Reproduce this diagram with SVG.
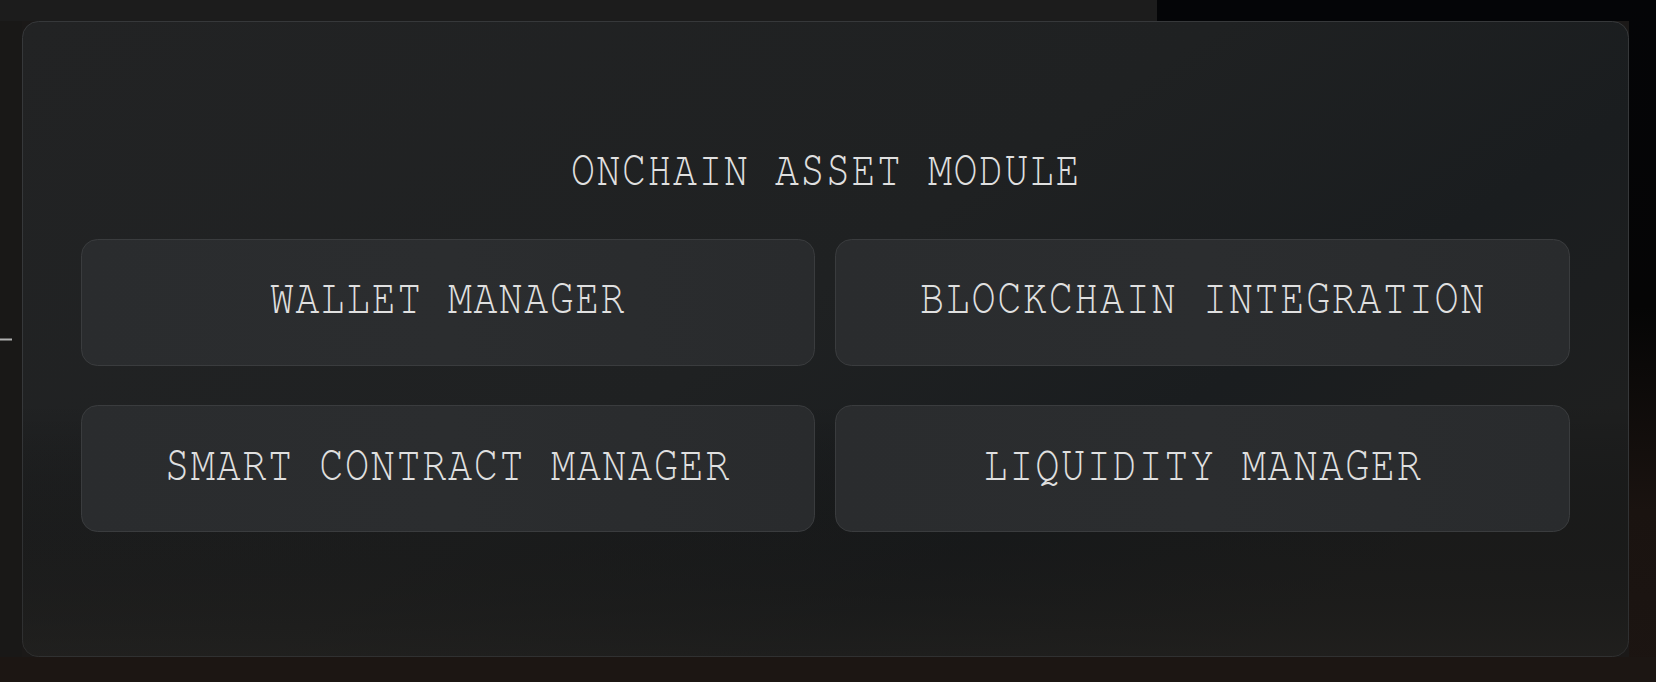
<svg xmlns="http://www.w3.org/2000/svg" width="1656" height="682" viewBox="0 0 1656 682">
  <defs>
    <linearGradient id="bgRight" x1="0" y1="0" x2="0" y2="1">
      <stop offset="0" stop-color="#040507"/>
      <stop offset="0.45" stop-color="#050505"/>
      <stop offset="0.75" stop-color="#1a1310"/>
      <stop offset="1" stop-color="#1c1512"/>
    </linearGradient>
    <linearGradient id="panelFill" x1="0" y1="0" x2="1" y2="0.6">
      <stop offset="0" stop-color="#222324"/>
      <stop offset="0.55" stop-color="#1f2122"/>
      <stop offset="0.8" stop-color="#1a1d1f"/>
      <stop offset="1" stop-color="#1e1f1f"/>
    </linearGradient>
    <linearGradient id="panelShade" x1="0" y1="0" x2="0" y2="1">
      <stop offset="0" stop-color="#000" stop-opacity="0"/>
      <stop offset="0.6" stop-color="#000" stop-opacity="0"/>
      <stop offset="1" stop-color="#211f1c" stop-opacity="0.6"/>
    </linearGradient>
    <linearGradient id="boxFill" x1="0" y1="0" x2="1" y2="0">
      <stop offset="0" stop-color="#2a2c2e"/>
      <stop offset="0.5" stop-color="#2b2d2f"/>
      <stop offset="1" stop-color="#292b2d"/>
    </linearGradient>
  </defs>
  <style>
    .panel { fill: url(#panelFill); stroke: #36383a; stroke-width: 1; }
    .box { fill: url(#boxFill); stroke: #3a3c3e; stroke-width: 1; }
    .lbl { font-family: "Nimbus Mono PS", "FreeMono", "Courier New", "Liberation Serif", serif; font-size: 50px; font-weight: 300; fill: #e0e0e0; text-anchor: middle; letter-spacing: 2px; }
  </style>

  <!-- background -->
  <rect x="0" y="0" width="1656" height="682" fill="#1b1918"/>
  <rect x="0" y="0" width="1160" height="21" fill="#1c1c1c"/>
  <rect x="1157" y="0" width="499" height="21" fill="#040507"/>
  <rect x="1629" y="0" width="27" height="682" fill="url(#bgRight)"/>
  <rect x="0" y="657" width="1656" height="25" fill="#1c1613"/>
  <rect x="0" y="21" width="22" height="636" fill="#191817"/>
  <line x1="0" y1="339.5" x2="12" y2="339.5" stroke="#b0b0b0" stroke-width="2"/>

  <g id="panel">
    <rect class="panel" x="22.5" y="21.5" width="1606" height="635" rx="16"/>
    <rect x="22.5" y="21.5" width="1606" height="635" rx="16" fill="url(#panelShade)"/>
    <text class="lbl" x="826" y="185" textLength="510" lengthAdjust="spacingAndGlyphs">ONCHAIN ASSET MODULE</text>
  </g>

  <g id="wallet-manager">
    <rect class="box" x="81.5" y="239.5" width="733" height="126" rx="16"/>
    <text class="lbl" x="448" y="313" textLength="356" lengthAdjust="spacingAndGlyphs">WALLET MANAGER</text>
  </g>

  <g id="blockchain-integration">
    <rect class="box" x="835.5" y="239.5" width="734" height="126" rx="16"/>
    <text class="lbl" x="1203" y="313" textLength="566" lengthAdjust="spacingAndGlyphs">BLOCKCHAIN INTEGRATION</text>
  </g>

  <g id="smart-contract-manager">
    <rect class="box" x="81.5" y="405.5" width="733" height="126" rx="16"/>
    <text class="lbl" x="448" y="480" textLength="566" lengthAdjust="spacingAndGlyphs">SMART CONTRACT MANAGER</text>
  </g>

  <g id="liquidity-manager">
    <rect class="box" x="835.5" y="405.5" width="734" height="126" rx="16"/>
    <text class="lbl" x="1203" y="480" textLength="439" lengthAdjust="spacingAndGlyphs">LIQUIDITY MANAGER</text>
  </g>

  <g id="connectors"></g>
</svg>
